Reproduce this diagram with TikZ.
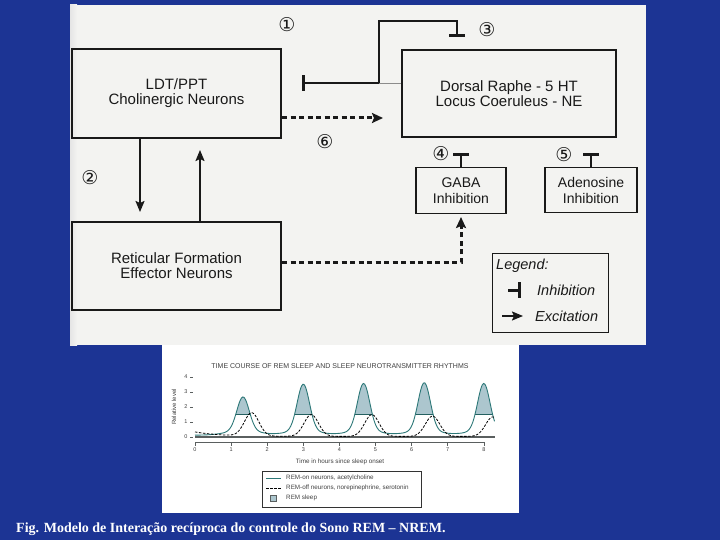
\documentclass[tikz,border=0pt]{standalone}
\usepackage{fontspec}
\setmainfont{Liberation Sans}
\newfontfamily\capfont{Liberation Serif}
\newfontfamily\symfont{DejaVu Sans}
\usetikzlibrary{arrows.meta,calc}
\definecolor{bgblue}{RGB}{28,52,148}
\definecolor{paper}{RGB}{243,243,241}
\definecolor{ink}{RGB}{25,25,25}
\definecolor{remon}{RGB}{45,120,120}
\definecolor{remfill}{RGB}{172,198,206}
\definecolor{axisgray}{RGB}{90,95,95}
\begin{document}
\begin{tikzpicture}[x=1pt,y=-1pt,
  declare function={
    gs(\t,\c,\s)=exp(-((\t-\c)*(\t-\c))/(2*\s*\s));
    ron(\t)=0.12+2.25*gs(\t,1.33,0.17)+3.1*gs(\t,3.0,0.17)+3.15*gs(\t,4.67,0.17)+3.2*gs(\t,6.35,0.17)+3.15*gs(\t,8.0,0.17)
      +0.3*(gs(\t,1.33,0.45)+gs(\t,3.0,0.45)+gs(\t,4.67,0.45)+gs(\t,6.35,0.45)+gs(\t,8.0,0.45));
    roff(\t)=0.04+0.3*exp(-\t/0.7)+1.55*gs(\t,1.57,0.2)+1.45*gs(\t,3.22,0.2)+1.45*gs(\t,4.9,0.2)+1.35*gs(\t,6.58,0.2)+1.3*gs(\t,8.25,0.2);
  },
  bigbox/.style={draw=ink,line width=2pt,align=center,font=\fontsize{15}{15}\selectfont,text=ink,inner sep=0pt},
  smallbox/.style={draw=ink,line width=1.1pt,align=center,font=\fontsize{14}{16}\selectfont,text=ink,inner sep=0pt},
  num/.style={font=\symfont\fontsize{19}{19}\selectfont,text=ink,inner sep=0pt},
  legtext/.style={font=\itshape\fontsize{14.5}{15}\selectfont,text=ink,inner sep=0pt,anchor=west},
  exc/.style={draw=ink,line width=1.8pt,-{Stealth[length=11pt,width=9pt,inset=2pt]}},
  dexc/.style={draw=ink,line width=3pt,dash pattern=on 5pt off 3.5pt,-{Stealth[length=11pt,width=10pt,inset=2pt]}},
  inh/.style={draw=ink,line width=2pt,line join=miter,-{Bar[width=16pt,line width=3.2pt]}},
  small/.style={font=\fontsize{6}{7}\selectfont,text=black!75,inner sep=0pt},
  remline/.style={draw=remon,line width=0.9pt},
  offline/.style={draw=black,line width=0.8pt,dash pattern=on 2.5pt off 1.5pt}
]
\useasboundingbox (0,0) rectangle (720,540);
% background and panels
\fill[bgblue] (0,0) rectangle (720,540);
\fill[paper] (70,5) rectangle (646,345);
\shade[left color=black!10,right color=paper] (70,5) rectangle (77,345);
\fill[white] (162,345) rectangle (519,513);

% ---------- upper diagram ----------
\node[bigbox,minimum width=209pt,minimum height=89pt] (ldt) at (176.5,93.5) {LDT/PPT\\Cholinergic Neurons};
\node[bigbox,minimum width=214pt,minimum height=87pt] (dr) at (509,93.5) {Dorsal Raphe - 5 HT\\Locus Coeruleus - NE};
\node[bigbox,minimum width=209pt,minimum height=88pt] (ret) at (176.5,266) {Reticular Formation\\Effector Neurons};
\node[smallbox,minimum width=90pt,minimum height=46pt] (gaba) at (461,190.5) {GABA\\Inhibition};
\node[smallbox,minimum width=92pt,minimum height=45pt] (ado) at (591,190) {Adenosine\\Inhibition};
\node[draw=ink,line width=0.9pt,minimum width=116pt,minimum height=79pt] (leg) at (550,292.5) {};

\node[num] (n1) at (287,25) {①};
\node[num] (n2) at (90,178) {②};
\node[num] (n3) at (487,30) {③};
\node[num] (n4) at (441,154) {④};
\node[num] (n5) at (564,155) {⑤};
\node[num] (n6) at (325,142) {⑥};

% connectors
\coordinate (xd) at (140,0);
\coordinate (xu) at (200,0);
\draw[exc,shorten >=9pt] (ldt.south -| xd) -- (ret.north -| xd);
\draw[exc,shorten >=11pt] (ret.north -| xu) -- (ldt.south -| xu);
\coordinate (yd) at (0,118);
\draw[dexc,shorten >=18pt] (ldt.east |- yd) -- (dr.west |- yd);
\coordinate (yr) at (0,262);
\draw[dexc,shorten >=3pt] (ret.east |- yr) -| (gaba.south);

\coordinate (riser) at (379,83);
\coordinate (barA) at (302,83);
\coordinate (topL) at (379,21);
\coordinate (barB) at (457,37);
\draw[line width=0.6pt,black!45] (dr.west |- riser) -- (riser);
\draw[inh] (riser) -- (barA);
\draw[inh] (riser) -- (topL) -| (barB);
\draw[inh] (gaba.north) -- ++(0,-14);
\draw[inh] (ado.north) -- ++(0,-14);

% legend
\node[legtext] (legt) at (496,266) {Legend:};
\node[legtext] (legi) at (537,290) {Inhibition};
\node[legtext] (lege) at (535,316) {Excitation};
\coordinate (li0) at (508,290);
\coordinate (li1) at (521,290);
\draw[inh,line width=3pt] (li0) -- (li1);
\coordinate (le0) at (502,316);
\coordinate (le1) at (523,316);
\draw[exc] (le0) -- (le1);

% ---------- lower graph ----------
\node[small,font=\fontsize{7}{8}\selectfont] (gtitle) at (340,366) {TIME COURSE OF REM SLEEP AND SLEEP NEUROTRANSMITTER RHYTHMS};
\node[small,rotate=90] (ylab) at (174,407) {Relative level};
\foreach \k in {0,...,4}{
  \node[small,font=\fontsize{5.5}{6}\selectfont] (y\k) at (186,{437-15*\k}) {\k};
  \draw[axisgray,line width=0.4pt] (190,{437-15*\k}) -- (193,{437-15*\k});
}
\draw[axisgray,line width=0.6pt] (195,442) -- (484,442);
\foreach \k in {0,...,8}{
  \draw[axisgray,line width=0.5pt] ({195+36.1*\k},442) -- ({195+36.1*\k},446);
  \node[small,font=\fontsize{5.5}{6}\selectfont] (x\k) at ({195+36.1*\k},450) {\k};
}
\node[small,font=\fontsize{6.3}{7}\selectfont] (xlab) at (340,462) {Time in hours since sleep onset};

% REM fill above level 1.5
\begin{scope}
  \clip (190,300) rectangle (500,414.5);
  \fill[remfill] plot[domain=0:8.3,samples=220,smooth] ({195+36.1*\x},{437-15*ron(\x)}) -- (494.6,437) -- (195,437) -- cycle;
\end{scope}
\begin{scope}
  \clip plot[domain=0:8.3,samples=220,smooth] ({195+36.1*\x},{437-15*ron(\x)}) -- (494.6,437) -- (195,437) -- cycle;
  \draw[remline,draw=remon!80!black] (195,414.5) -- (495,414.5);
\end{scope}
\draw[line width=2.4pt,axisgray] (195,437) -- (495,437);
\draw[remline] plot[domain=0:8.3,samples=220,smooth] ({195+36.1*\x},{437-15*ron(\x)});
\draw[offline] plot[domain=0:8.3,samples=220,smooth] ({195+36.1*\x},{437-15*roff(\x)});

% graph legend
\node[draw=black!80,line width=0.6pt,minimum width=159pt,minimum height=36pt] (gleg) at (341.5,489) {};
\draw[remline] (266,478) -- (281,478);
\draw[offline] (266,488) -- (281,488);
\node[fill=remfill,draw=axisgray,line width=0.4pt,minimum size=6pt,inner sep=0pt] (gsq) at (273,498) {};
\node[small,anchor=west,font=\fontsize{6.3}{7}\selectfont] (g1) at (286,478) {REM-on neurons, acetylcholine};
\node[small,anchor=west,font=\fontsize{6.3}{7}\selectfont] (g2) at (286,488) {REM-off neurons, norepinephrine, serotonin};
\node[small,anchor=west,font=\fontsize{6.3}{7}\selectfont] (g3) at (286,498) {REM sleep};

% caption
\node[anchor=base west,font=\capfont\bfseries\fontsize{14}{15}\selectfont,text=white,inner sep=0pt] (cap) at (16,532) {Fig. Modelo de Interação recíproca do controle do Sono REM – NREM.};
\end{tikzpicture}
\end{document}
